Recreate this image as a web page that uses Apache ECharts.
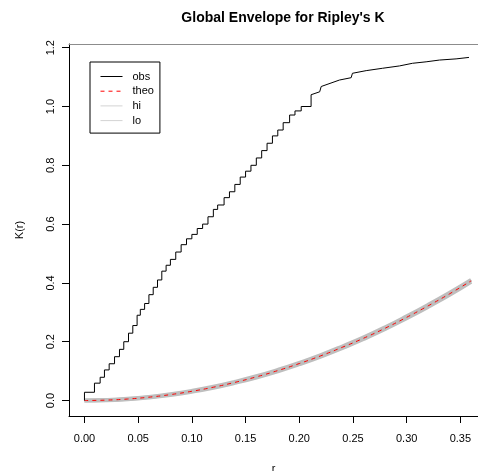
<!DOCTYPE html>
<html>
<head>
<meta charset="utf-8">
<script src="https://cdn.jsdelivr.net/npm/echarts@6/dist/echarts.min.js"></script>
<style>
  html, body { margin: 0; padding: 0; background: #fff; }
  #chart { width: 478px; height: 471px; }
</style>
</head>
<body>
<div id="chart"></div>
<script>
// Observed K(r), stepwise part: jump positions (r) and the value reached at each jump
const obsStepR = [0, 0.0093, 0.0146, 0.0186, 0.023, 0.028, 0.0326, 0.0366, 0.041, 0.045,
  0.049, 0.052, 0.056, 0.060, 0.064, 0.068, 0.072, 0.076, 0.080, 0.085,
  0.090, 0.095, 0.100, 0.105, 0.110, 0.115, 0.120, 0.124, 0.130, 0.135,
  0.140, 0.145, 0.150, 0.155, 0.160, 0.165, 0.170, 0.175, 0.180, 0.185,
  0.191, 0.196, 0.2018];
const obsStepK = [0.028, 0.059, 0.079, 0.104, 0.125, 0.149, 0.174, 0.200, 0.229, 0.255,
  0.290, 0.310, 0.330, 0.360, 0.385, 0.410, 0.440, 0.460, 0.480, 0.505,
  0.530, 0.550, 0.565, 0.585, 0.600, 0.625, 0.650, 0.665, 0.690, 0.710,
  0.735, 0.760, 0.780, 0.800, 0.825, 0.850, 0.875, 0.900, 0.920, 0.945,
  0.971, 0.985, 1.000];
// Observed K(r), upper part where the steps are small: polyline vertices
const obsTailR = [0.211, 0.211, 0.219, 0.2204, 0.2204, 0.2374, 0.2483, 0.2495, 0.2623, 0.2774,
  0.2933, 0.3054, 0.3181, 0.3305, 0.346, 0.358];
const obsTailK = [1.005, 1.040, 1.050, 1.052, 1.068, 1.090, 1.098, 1.113, 1.122, 1.130,
  1.138, 1.147, 1.152, 1.158, 1.162, 1.167];

// Theoretical curve and the global envelope bounds
const curveR = [0, 0.02, 0.04, 0.06, 0.08, 0.10, 0.12, 0.14, 0.16, 0.18,
  0.20, 0.22, 0.24, 0.26, 0.28, 0.30, 0.32, 0.34, 0.36];
const theoK = [0, 0.0013, 0.005, 0.0113, 0.0201, 0.0314, 0.0452, 0.0616, 0.0804, 0.1018,
  0.1257, 0.152, 0.181, 0.212, 0.246, 0.283, 0.322, 0.363, 0.407];
const hiK = [0, 0.0018, 0.0058, 0.0123, 0.0213, 0.0328, 0.0468, 0.0634, 0.0824, 0.104,
  0.128, 0.1545, 0.1837, 0.2148, 0.249, 0.2862, 0.3254, 0.3666, 0.4102];
const loK = [0, 0.0008, 0.0042, 0.0103, 0.0189, 0.03, 0.0436, 0.0598, 0.0784, 0.0996,
  0.1234, 0.1495, 0.1783, 0.2092, 0.243, 0.2798, 0.3186, 0.3594, 0.4038];

const xTicks = [0, 0.05, 0.10, 0.15, 0.20, 0.25, 0.30, 0.35];
const yTicks = [0, 0.2, 0.4, 0.6, 0.8, 1.0, 1.2];

const FONT = '"Liberation Sans", Arial, Helvetica, sans-serif';
const zip = (xs, ys) => xs.map((x, i) => [x, ys[i]]);

// Build the observed polyline: each jump is a vertical segment, then the tail
function obsPolyline() {
  const pts = [[0, 0]];
  let prev = 0;
  obsStepR.forEach((r, i) => {
    pts.push([r, prev]);
    pts.push([r, obsStepK[i]]);
    prev = obsStepK[i];
  });
  pts.push([obsTailR[0], prev]);
  return pts.concat(zip(obsTailR, obsTailK));
}

const chart = echarts.init(document.getElementById('chart'), null, { renderer: 'canvas' });
chart.setOption({
  animation: false,
  backgroundColor: '#ffffff',
  title: {
    text: "Global Envelope for Ripley's K",
    left: 278, top: 6, textAlign: 'center',
    textStyle: { fontFamily: FONT, fontWeight: 'bold', fontSize: 14, color: '#000' }
  },
  legend: {
    orient: 'vertical',
    left: 90, top: 62,
    padding: [9, 6, 7, 10],
    borderColor: '#000', borderWidth: 1, borderRadius: 0,
    itemWidth: 22, itemHeight: 12, itemGap: 3.7,
    itemStyle: { opacity: 0 },
    textStyle: { fontFamily: FONT, fontSize: 11, color: '#000', padding: [0, 0, 0, 5] },
    data: [
      { name: 'obs', lineStyle: { color: '#000', width: 1 } },
      { name: 'theo', lineStyle: { color: '#ff0000', width: 1, type: [4, 4] } },
      { name: 'hi', lineStyle: { color: '#d3d3d3', width: 1 } },
      { name: 'lo', lineStyle: { color: '#d3d3d3', width: 1 } }
    ]
  },
  grid: { left: 69, top: 44, width: 409, height: 372, containLabel: false, outerBoundsMode: 'none' },
  xAxis: [{
    type: 'value', min: -0.0144, max: 0.3664,
    name: 'r', nameLocation: 'middle', nameGap: 47,
    nameTextStyle: { fontFamily: FONT, fontSize: 11, color: '#000' },
    axisLine: { show: true, onZero: false, lineStyle: { color: '#000', width: 1 } },
    axisTick: { show: true, length: 7, customValues: xTicks, lineStyle: { color: '#000' } },
    axisLabel: { customValues: xTicks, margin: 17, fontFamily: FONT, fontSize: 11, color: '#000',
      formatter: v => v.toFixed(2) },
    splitLine: { show: false }
  }, {
    type: 'value', position: 'top', min: -0.0144, max: 0.3664,
    axisLine: { show: true, onZero: false, lineStyle: { color: '#8c8c8c', width: 1 } },
    axisTick: { show: false }, axisLabel: { show: false }, splitLine: { show: false }
  }],
  yAxis: {
    type: 'value', min: -0.0527, max: 1.2126,
    name: 'K(r)', nameLocation: 'middle', nameGap: 44, nameRotate: 90,
    nameTextStyle: { fontFamily: FONT, fontSize: 11, color: '#000' },
    axisLine: { show: true, onZero: false, lineStyle: { color: '#000', width: 1 } },
    axisTick: { show: true, length: 7, customValues: yTicks, lineStyle: { color: '#000' } },
    axisLabel: { customValues: yTicks, rotate: 90, margin: 13, fontFamily: FONT, fontSize: 11, color: '#000',
      formatter: v => v.toFixed(1) },
    splitLine: { show: false }
  },
  series: [
    {
      name: 'hi', type: 'line', data: zip(curveR, hiK), smooth: true,
      showSymbol: false, symbol: 'none',
      lineStyle: { color: '#bebebe', width: 4 }, z: 1
    },
    {
      name: 'lo', type: 'line', data: zip(curveR, loK), smooth: true,
      showSymbol: false, symbol: 'none',
      lineStyle: { color: '#bebebe', width: 4 }, z: 1
    },
    {
      name: 'theo', type: 'line', data: zip(curveR, theoK), smooth: true,
      showSymbol: false, symbol: 'none',
      lineStyle: { color: '#ff0000', width: 1, type: [4, 4] }, z: 3
    },
    {
      name: 'obs', type: 'line', data: obsPolyline(),
      showSymbol: false, symbol: 'none',
      lineStyle: { color: '#000', width: 1 }, z: 4
    }
  ]
});
</script>
</body>
</html>
